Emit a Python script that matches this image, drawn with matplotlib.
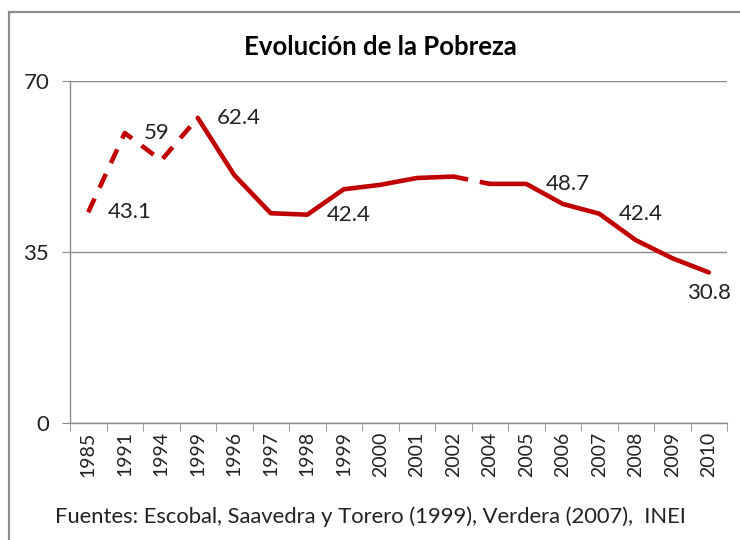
import matplotlib
matplotlib.use("Agg")
import matplotlib.pyplot as plt
from matplotlib.patches import Rectangle

plt.rcParams['font.family'] = ['Lato', 'DejaVu Sans']

years = ["1985", "1991", "1994", "1999", "1996", "1997", "1998", "1999", "2000",
         "2001", "2002", "2004", "2005", "2006", "2007", "2008", "2009", "2010"]
pobreza = [43.1, 59.3, 53.7, 62.4, 50.7, 42.9, 42.6, 47.8, 48.7,
           50.1, 50.4, 48.9, 48.9, 44.8, 42.8, 37.4, 33.7, 30.8]
# tramos: (inicio, fin, discontinuo)
tramos = [(0, 3, True), (3, 10, False), (10, 11, True), (11, 17, False)]
# etiquetas: (indice, texto, posicion)
etiquetas = [(0, "43.1", "right"), (1, "59", "right"), (3, "62.4", "right"),
             (6, "42.4", "right"), (12, "48.7", "right"), (14, "42.4", "right"),
             (17, "30.8", "below")]

rojo = "#C00000"
gris = "#8c8c8c"
texto = "#222222"

fig = plt.figure(figsize=(7.4, 5.4), dpi=100)
ax = fig.add_axes([70/740, 1-423/540, (727-70)/740, (423-80.7)/540])

x = list(range(len(years)))
for a, b, disc in tramos:
    if disc:
        ax.plot(x[a:b+1], pobreza[a:b+1], color=rojo, lw=3.3, dashes=(3.3, 2.6),
                dash_capstyle="butt", solid_joinstyle="round")
    else:
        ax.plot(x[a:b+1], pobreza[a:b+1], color=rojo, lw=3.3,
                solid_capstyle="round", solid_joinstyle="round")

for i, txt, pos in etiquetas:
    if pos == "right":
        ax.annotate(txt, (i, pobreza[i]), xytext=(14, 0), textcoords="offset points",
                    ha="left", va="center", fontsize=16, color=texto)
    else:
        ax.annotate(txt, (i, pobreza[i]), xytext=(0, -15), textcoords="offset points",
                    ha="center", va="center", fontsize=16, color=texto)

ax.set_xlim(-0.5, len(years) - 0.5)
ax.set_ylim(0, 70)
ax.set_yticks([0, 35, 70])
ax.set_yticklabels(["0", "35", "70"], fontsize=16, color=texto)
ax.set_xticks(x)
ax.set_xticklabels(years, rotation=90, fontsize=14, color=texto)
ax.set_xticks([v - 0.5 for v in x] + [len(years) - 0.5], minor=True)
ax.tick_params(axis="x", which="major", length=0, pad=6)
ax.tick_params(axis="x", which="minor", length=6, color=gris, direction="out")
ax.tick_params(axis="y", length=6, color=gris, pad=9)
ax.grid(axis="y", color=gris, lw=1)
ax.set_axisbelow(True)
for s in ["top", "right"]:
    ax.spines[s].set_visible(False)
for s in ["left", "bottom"]:
    ax.spines[s].set_color(gris)
    ax.spines[s].set_linewidth(1)

fig.text(380/740, 1-47/540, "Evolución de la Pobreza", ha="center", va="center",
         fontsize=18.5, fontweight="bold", color="black")
fig.text(55/740, 1-517/540, "Fuentes: Escobal, Saavedra y Torero (1999), Verdera (2007),  INEI",
         ha="left", va="center", fontsize=15.8, color=texto)

fig.patches.append(Rectangle((9/740, -0.1), 1.2, 1-12/540 + 0.1, transform=fig.transFigure,
                             fill=False, edgecolor=gris, lw=1.6))

fig.savefig("out.png", dpi=100)
